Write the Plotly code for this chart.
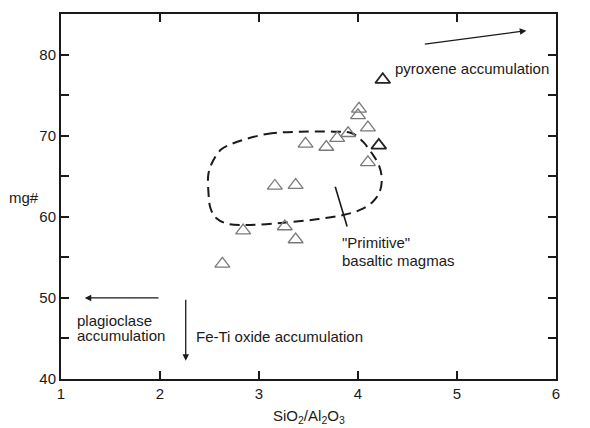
import plotly.graph_objects as go

# Data points (SiO2/Al2O3, mg#)
x_pts = [4.01, 4.00, 4.10, 3.90, 3.79, 3.47, 3.68, 4.10, 3.16, 3.37, 2.84, 3.26, 3.37, 2.63]
y_pts = [73.3, 72.5, 71.0, 70.3, 69.7, 69.0, 68.6, 66.7, 63.8, 63.9, 58.3, 58.8, 57.2, 54.2]
x_bold = [4.25, 4.21]
y_bold = [76.9, 68.8]

# "Primitive" basaltic magma field outline
field_x = [2.74, 3.08, 3.41, 3.75, 3.94, 4.05, 4.14, 4.21, 4.24, 4.22, 4.15, 4.02, 3.85,
           3.58, 3.25, 2.91, 2.69, 2.57, 2.51, 2.49, 2.49, 2.54, 2.62, 2.74]
field_y = [69.06, 70.21, 70.49, 70.49, 70.30, 69.26, 67.83, 66.39, 64.75, 63.10, 61.86, 60.84, 60.22,
           59.69, 59.27, 58.99, 59.11, 59.81, 61.05, 62.90, 65.36, 67.00, 68.32, 69.06]

x_ticks = [1, 2, 3, 4, 5, 6]
y_tickvals = [40, 45, 50, 55, 60, 65, 70, 75, 80]
y_ticktext = ["40", "", "50", "", "60", "", "70", "", "80"]

FONT = "Liberation Sans, Arial, sans-serif"
INK = "#1a1a1a"
FS = 15

fig = go.Figure()
fig.add_trace(go.Scatter(x=field_x, y=field_y, mode="lines",
                         line=dict(color=INK, width=2, dash="10px,6px", shape="spline", smoothing=1.0),
                         hoverinfo="skip", showlegend=False))
fig.add_trace(go.Scatter(x=x_pts, y=y_pts, mode="markers",
                         marker=dict(symbol="triangle-up-open", size=13, color="#7a7a7a",
                                     line=dict(width=1.3, color="#7a7a7a")),
                         showlegend=False))
fig.add_trace(go.Scatter(x=x_bold, y=y_bold, mode="markers",
                         marker=dict(symbol="triangle-up-open", size=13, color="#222222",
                                     line=dict(width=1.8, color="#222222")),
                         showlegend=False))

# line pointing to field
fig.add_shape(type="line", x0=3.77, y0=63.7, x1=3.89, y1=58.8, xref="x", yref="y",
              line=dict(color=INK, width=1.6))

def arrow(x0, y0, x1, y1):
    fig.add_annotation(x=x1, y=y1, ax=x0, ay=y0, xref="x", yref="y", axref="x", ayref="y",
                       text="", showarrow=True, arrowhead=2, arrowsize=1.0, arrowwidth=1.3,
                       arrowcolor=INK, standoff=0, startstandoff=0)

arrow(4.66, 81.27, 5.70, 82.95)
arrow(2.0, 50.0, 1.24, 50.0)
arrow(2.26, 49.95, 2.26, 42.26)

def label(x, y, t):
    fig.add_annotation(x=x, y=y, xref="x", yref="y", text=t, showarrow=False, borderpad=0,
                       xanchor="left", yanchor="middle", font=dict(family=FONT, size=FS, color=INK))

label(4.36, 78.31, "pyroxene accumulation")
label(1.155, 47.19, "plagioclase")
label(1.155, 45.34, "accumulation")
label(2.35, 45.30, "Fe-Ti oxide accumulation")
label(3.825, 56.81, "\"Primitive\"")
label(3.825, 54.67, "basaltic magmas")

# y axis title
fig.add_annotation(x=-0.075, y=62.4, xref="paper", yref="y", text="mg#", showarrow=False,
                   xanchor="center", yanchor="middle", font=dict(family=FONT, size=FS, color=INK))
# x axis title
fig.add_annotation(x=3.5, y=-0.104, xref="x", yref="paper", text="SiO<sub>2</sub>/Al<sub>2</sub>O<sub>3</sub>",
                   showarrow=False, xanchor="center", yanchor="middle",
                   font=dict(family=FONT, size=FS, color=INK))

axis_common = dict(showgrid=False, zeroline=False, showline=True, linecolor=INK, linewidth=2,
                   ticks="inside", ticklen=8, tickwidth=1.8, tickcolor=INK, mirror="ticks",
                   tickfont=dict(family=FONT, size=FS, color=INK))

fig.update_xaxes(range=[1, 6], tickvals=x_ticks, ticktext=[str(v) for v in x_ticks], **axis_common)
fig.update_yaxes(range=[40, 85], tickvals=y_tickvals, ticktext=y_ticktext, **axis_common)

fig.update_layout(width=590, height=428, margin=dict(l=61, r=34, t=14, b=49),
                  plot_bgcolor="white", paper_bgcolor="white", showlegend=False,
                  font=dict(family=FONT, size=FS, color=INK))

fig.write_html("out.html")
